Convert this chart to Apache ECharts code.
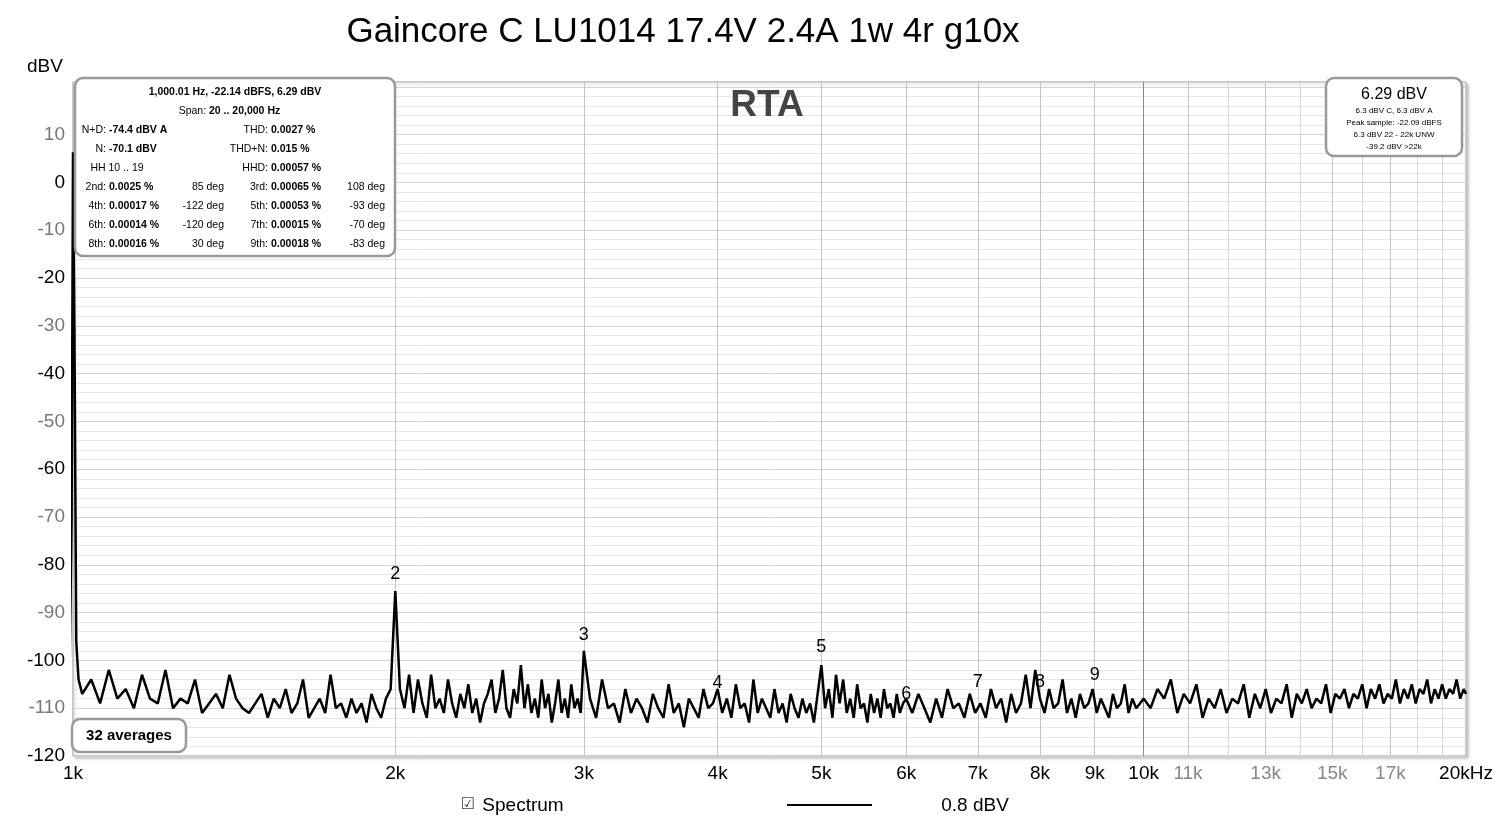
<!DOCTYPE html>
<html><head><meta charset="utf-8">
<script src="https://cdn.jsdelivr.net/npm/echarts@6/dist/echarts.min.js"></script>
<style>html,body{margin:0;padding:0;background:#fff}#c{width:1500px;height:825px}</style>
</head><body><div id="c"></div>
<script>
// ---- data ----
const fundFreqs = [992, 997, 1000, 1003, 1007, 1012];
const fundLevels = [-108, -70, 6.3, -30, -96, -104];
// segment A: 1020..3000 step 20
const segA = {start: 1020, step: 20};
const levelsA = [-107,-104,-109,-102,-108,-106,-110,-103,-108,-109,
 -102,-110,-108,-109,-104,-111,-109,-107,-110,-103,
 -108,-110,-111,-109,-107,-112,-108,-110,-106,-111,
 -109,-104,-112,-110,-108,-111,-103,-110,-109,-112,
 -108,-111,-109,-113,-107,-110,-112,-108,-106,-85.5,
 -106,-110,-103,-111,-104,-109,-112,-103,-110,-108,
 -111,-104,-109,-112,-107,-110,-105,-111,-108,-113,
 -109,-107,-104,-111,-108,-102,-110,-112,-106,-109,
 -101,-110,-105,-111,-108,-112,-104,-110,-107,-113,
 -109,-104,-111,-108,-112,-105,-110,-108,-111,-98];
// segment B: 3040..6000 step 40
const segB = {start: 3040, step: 40};
const levelsB = [-108,-112,-104,-110,-109,-113,-106,-111,-108,-110,
 -113,-107,-110,-112,-105,-111,-109,-114,-108,-110,
 -112,-106,-110,-109,-106,-111,-108,-112,-105,-110,
 -109,-113,-104,-111,-108,-110,-112,-106,-111,-109,
 -113,-107,-110,-112,-108,-111,-109,-113,-107,-101,
 -110,-106,-112,-103,-109,-104,-111,-108,-112,-105,
 -110,-109,-113,-107,-111,-108,-112,-106,-110,-109,
 -112,-107,-111,-109,-108];
// segment C: 6080..10000 step 80
const segC = {start: 6080, step: 80};
const levelsC = [-111,-107,-110,-113,-108,-112,-106,-110,-109,-112,
 -107,-111,-109,-112,-106,-110,-108,-113,-107,-111,
 -109,-103,-110,-102,-108,-111,-106,-110,-109,-104,
 -111,-108,-112,-107,-110,-109,-106,-111,-108,-110,
 -112,-107,-110,-109,-105,-111,-108,-110,-109,-108];
// segment D: 10150..19900 step 150
const segD = {start: 10150, step: 150};
const levelsD = [-110,-106,-108,-104,-111,-107,-109,-105,-112,-108,
 -110,-106,-111,-108,-109,-105,-112,-107,-110,-106,
 -111,-108,-109,-105,-112,-107,-109,-106,-110,-108,
 -109,-105,-111,-107,-108,-106,-110,-107,-108,-105,
 -110,-106,-108,-105,-109,-107,-108,-104,-109,-106,
 -108,-105,-109,-106,-107,-104,-109,-106,-108,-105,
 -108,-106,-107,-104,-108,-106];
const endFreqs = [20000];
const endLevels = [-107];

const harmonicNames = ['2','3','4','5','6','7','8','9'];
const harmonicFreqs = [2000,3000,4000,5000,6000,7000,8000,9000];
const harmonicLabelLevels = [-82,-94.7,-104.7,-97.2,-107,-104.5,-104.5,-103];

const yTicks = [10,0,-10,-20,-30,-40,-50,-60,-70,-80,-90,-100,-110,-120];
const xMajorFreqs = [1000,2000,3000,4000,5000,6000,7000,8000,9000,10000,11000,13000,15000,17000,20000];
const xMajorLabels = ['1k','2k','3k','4k','5k','6k','7k','8k','9k','10k','11k','13k','15k','17k','20kHz'];
const xMinorFreqs = [12000,14000,16000,18000,19000];

// ---- build ----
const pts = [];
fundFreqs.forEach((f,i)=>pts.push([f,fundLevels[i]]));
[[segA,levelsA],[segB,levelsB],[segC,levelsC],[segD,levelsD]].forEach(([s,l])=>l.forEach((v,i)=>pts.push([s.start+s.step*i,v])));
endFreqs.forEach((f,i)=>pts.push([f,endLevels[i]]));

const FONT = 'Liberation Sans, Arial, sans-serif';
const greyLbl = new Set(['11k','13k','15k','17k']);
const gridLines = [];
xMinorFreqs.forEach(f=>gridLines.push({xAxis:f, lineStyle:{color:'#d8d8d8',width:1,type:'solid'}, label:{show:false}}));
xMajorFreqs.forEach((f,i)=>gridLines.push({xAxis:f,
  lineStyle:{color: f===10000 ? '#888' : '#c4c4c4', width:1, type:'solid'},
  label:{show:true, position:'start', formatter: xMajorLabels[i], fontSize:19, fontFamily:FONT,
    color: greyLbl.has(xMajorLabels[i]) ? '#888' : '#000', distance: 8}}));

const chart = echarts.init(document.getElementById('c'));
function row(y, parts){ return parts.map(p=>({type:'text', z:20, x:p.x, y:y, style:{text:p.t, fontSize:10.5, fontFamily:FONT, fontWeight:p.b?'bold':'normal', fill:'#000', textAlign:p.a||'left', textVerticalAlign:'middle'}})); }
const boxL = [
 ...row(92,[{x:235,t:'1,000.01 Hz, -22.14 dBFS, 6.29 dBV',b:1,a:'center'}]),
 ...row(111,[{x:209,t:'Span: ',a:'right'},{x:209,t:'20 .. 20,000 Hz',b:1}]),
 ...row(130,[{x:106,t:'N+D:',a:'right'},{x:109,t:'-74.4 dBV A',b:1},{x:268,t:'THD:',a:'right'},{x:271,t:'0.0027 %',b:1}]),
 ...row(149,[{x:106,t:'N:',a:'right'},{x:109,t:'-70.1 dBV',b:1},{x:268,t:'THD+N:',a:'right'},{x:271,t:'0.015 %',b:1}]),
 ...row(168,[{x:117,t:'HH 10 .. 19',a:'center'},{x:268,t:'HHD:',a:'right'},{x:271,t:'0.00057 %',b:1}]),
 ...row(187,[{x:106,t:'2nd:',a:'right'},{x:109,t:'0.0025 %',b:1},{x:224,t:'85 deg',a:'right'},{x:268,t:'3rd:',a:'right'},{x:271,t:'0.00065 %',b:1},{x:385,t:'108 deg',a:'right'}]),
 ...row(206,[{x:106,t:'4th:',a:'right'},{x:109,t:'0.00017 %',b:1},{x:224,t:'-122 deg',a:'right'},{x:268,t:'5th:',a:'right'},{x:271,t:'0.00053 %',b:1},{x:385,t:'-93 deg',a:'right'}]),
 ...row(225,[{x:106,t:'6th:',a:'right'},{x:109,t:'0.00014 %',b:1},{x:224,t:'-120 deg',a:'right'},{x:268,t:'7th:',a:'right'},{x:271,t:'0.00015 %',b:1},{x:385,t:'-70 deg',a:'right'}]),
 ...row(244,[{x:106,t:'8th:',a:'right'},{x:109,t:'0.00016 %',b:1},{x:224,t:'30 deg',a:'right'},{x:268,t:'9th:',a:'right'},{x:271,t:'0.00018 %',b:1},{x:385,t:'-83 deg',a:'right'}])
];
function txt(x,y,t,size,extra){return {type:'text',z:20,x:x,y:y,style:Object.assign({text:t,fontSize:size,fontFamily:FONT,fill:'#000',textAlign:'center',textVerticalAlign:'middle'},extra||{})};}

chart.setOption({
  animation:false,
  grid:{left:73, right:34, top:82, bottom:69, show:true, borderColor:'#999', borderWidth:1, backgroundColor:'#fff',
        shadowColor:'rgba(0,0,0,0.25)', shadowBlur:3, shadowOffsetX:2, shadowOffsetY:2},
  xAxis:{type:'log', logBase:10, min:1000, max:20000, axisLine:{show:false}, axisTick:{show:false}, axisLabel:{show:false}, splitLine:{show:false}},
  yAxis:{type:'value', min:-120, max:21, interval:10,
    axisLine:{show:false}, axisTick:{show:false},
    axisLabel:{fontSize:19, fontFamily:FONT, margin:8,
      formatter:v=> yTicks.includes(v) ? String(v) : '',
      color:v=> (Math.abs(v/10)%2===1) ? '#777' : '#000'},
    splitLine:{lineStyle:{color:'#d4d4d4'}},
    minorTick:{show:false, splitNumber:5}, minorSplitLine:{show:true, lineStyle:{color:'#e6e6e6'}}},
  series:[
    {type:'line', data:pts, symbol:'none', lineStyle:{color:'#000', width:2.5}, z:5,
     markLine:{silent:true, symbol:['none','none'], animation:false, data:gridLines, z:1}},
    {type:'scatter', data:harmonicFreqs.map((f,i)=>[f,harmonicLabelLevels[i],harmonicNames[i]]), symbolSize:0,
     itemStyle:{color:'#000', opacity:1}, z:10, zlevel:1,
     label:{show:true, position:'inside', formatter:p=>p.data[2], fontSize:18, fontFamily:FONT, color:'#000', opacity:1}}
  ],
  graphic:[
    txt(683,32,'Gaincore C LU1014 17.4V 2.4A 1w 4r g10x',35),
    txt(45,67,'dBV',19),
    txt(767,106,'RTA',37,{fontWeight:'bold',fill:'#444',fontFamily:'Liberation Sans'}),
    {type:'rect', z:10, shape:{x:75,y:78,width:320,height:178,r:8}, style:{fill:'#fff',stroke:'#999',lineWidth:2.5}},
    ...boxL,
    {type:'rect', z:10, shape:{x:1326,y:78,width:136,height:78,r:8}, style:{fill:'#fff',stroke:'#999',lineWidth:2.5}},
    txt(1394,95,'6.29 dBV',16),
    txt(1394,111,'6.3 dBV C, 6.3 dBV A',8),
    txt(1394,123,'Peak sample: -22.09 dBFS',8),
    txt(1394,135,'6.3 dBV 22 - 22k UNW',8),
    txt(1394,147,'-39.2 dBV >22k',8),
    {type:'rect', z:10, shape:{x:72,y:719,width:114,height:33,r:8}, style:{fill:'#fff',stroke:'#999',lineWidth:2.5}},
    txt(129,736,'32 averages',15,{fontWeight:'bold'}),
    txt(468,805,'☑',16,{fontFamily:'DejaVu Sans',fill:'#444'}),
    txt(523,806,'Spectrum',19),
    {type:'line', z:20, shape:{x1:787,y1:805,x2:872,y2:805}, style:{stroke:'#000',lineWidth:2}},
    txt(975,806,'0.8 dBV',19)
  ]
});
</script></body></html>
